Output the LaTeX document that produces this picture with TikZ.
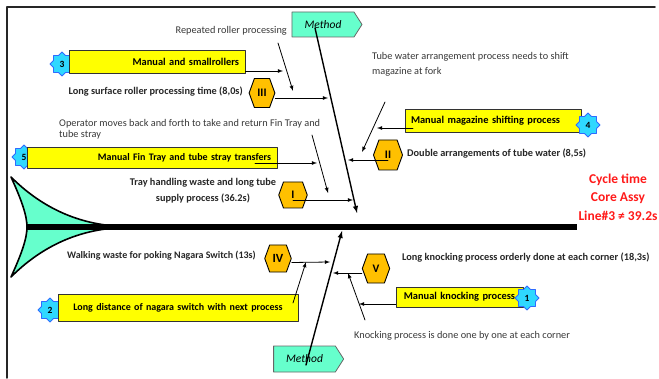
\documentclass[tikz,border=0pt]{standalone}
\usepackage{fontspec}
\setmainfont{Carlito}
\usetikzlibrary{shapes.geometric,shapes.symbols}
\definecolor{causeyellow}{HTML}{FFFF00}
\definecolor{levelgold}{HTML}{FFC000}
\definecolor{methodteal}{HTML}{66FFCC}
\definecolor{badgecyan}{HTML}{2FD8FF}
\definecolor{badgeblue}{HTML}{2F6BFF}
\definecolor{cyclered}{HTML}{FF1A1A}

\begin{document}
\begin{tikzpicture}[x=1pt, y=1pt, line cap=round, line join=round, >=latex,
    note/.style={font=\fontsize{10.3}{11.5}\selectfont, text=black!78, inner sep=0pt, align=left},
    timing/.style={font=\fontsize{10.3}{16}\selectfont\bfseries, text=black!85, inner sep=0pt, align=center},
    cause/.style={draw=black!80, fill=causeyellow, line width=0.8pt, inner xsep=6pt, inner ysep=0pt,
      font=\fontsize{10.4}{12}\selectfont\bfseries},
    badge/.style={star, star points=8, star point ratio=1.3, minimum size=24pt, inner sep=0pt,
      fill=badgecyan, draw=badgeblue, line width=0.8pt, font=\fontsize{9.5}{10}\selectfont\bfseries},
    level/.style={signal, signal to=east and west, signal pointer angle=140,
      minimum height=28pt, inner xsep=7pt, inner ysep=0pt, fill=levelgold, draw=black, line width=0.9pt,
      font=\fontsize{11.5}{12}\selectfont\bfseries},
    method/.style={signal, signal to=east, signal pointer angle=115, minimum width=70pt,
      minimum height=25pt, inner sep=0pt, fill=methodteal, draw=black!60, line width=0.8pt,
      font=\fontsize{11.5}{12}\selectfont\itshape},
    every edge/.append style={line width=0.8pt}]

  \useasboundingbox (0,0) rectangle (659,378);
  \draw[line width=1.5pt, black!85] (655,371) -- (7,371) -- (7,0);

  % fish tail and spine
  \draw[line width=1.6pt, fill=methodteal] (11,201) .. controls (40,172) and (75,155) .. (115,152)
    -- (115,150) .. controls (75,147) and (40,130) .. (11,101)
    .. controls (22,125) and (27,140) .. (27,151)
    .. controls (27,162) and (22,177) .. (11,201) -- cycle;
  \draw[line width=6.5pt, line cap=butt] (27,151) -- (577,151);

  \node[method] (mt) at (323,353.5) {Method};
  \node[method, minimum height=26pt] (mb) at (304.5,19) {Method};

  % badges behind the boxes
  \node[badge] (n3) at (62,314) {3};
  \node[badge] (n5) at (24,221) {5};
  \node[badge] (n2) at (50,68) {2};

  % yellow boxes
  \node[cause, text width=164pt, align=right, minimum height=23pt] (b3) at (157,316.5) {Manual and smallrollers};
  \node[cause, text width=238pt, align=right, minimum height=21pt, font=\fontsize{10}{12}\selectfont\bfseries] (b5) at (152,220.5) {Manual Fin Tray and tube stray transfers};
  \node[cause, text width=164pt, align=left, minimum height=23pt] (b4) at (493,257.5) {Manual magazine shifting process};
  \node[cause, text width=228pt, align=center, minimum height=27pt, font=\fontsize{10}{12}\selectfont\bfseries] (b2) at (178,70.5) {Long distance of nagara switch with next process};
  \node[cause, text width=115pt, align=center, minimum height=20pt] (b1) at (459.5,81) {Manual knocking process};

  \node[badge] (n4) at (588,253) {4};
  \node[badge] (n1) at (527,80) {1};

  % texts
  \node[note, anchor=east] (t1) at (287,347) {Repeated roller processing};
  \node[timing, anchor=east] (t3) at (243,286) {Long surface roller processing time (8,0s)};
  \node[note, anchor=north west] (t5) at (59,259) {Operator moves back and forth to take and return Fin Tray and\\tube stray};
  \node[timing] (t6) at (203,187) {Tray handling waste and long tube\\supply process (36.2s)};
  \node[note, anchor=north west, font=\fontsize{10.3}{15}\selectfont] (t7) at (372,326) {Tube water arrangement process needs to shift\\magazine at fork};
  \node[timing, anchor=west] (t8) at (407,224) {Double arrangements of tube water (8,5s)};
  \node[timing, anchor=east, font=\fontsize{10}{12}\selectfont\bfseries] (t9) at (256,122) {Walking waste for poking Nagara Switch (13s)};
  \node[timing, anchor=west] (t10) at (402,120) {Long knocking process orderly done at each corner (18,3s)};
  \node[note, anchor=west] (t11) at (354,42) {Knocking process is done one by one at each corner};
  \node[font=\fontsize{13.5}{18.5}\selectfont\bfseries, text=cyclered, align=center, inner sep=0pt] (ct) at (618,181)
    {Cycle time\\Core Assy\\Line\#3 ≠ 39.2s};

  % hexagons
  \node[level, minimum height=29pt, inner xsep=3pt] (h3) at (262,285) {III};
  \node[level, minimum height=26pt, inner xsep=8pt] (h1) at (293,183) {I};
  \node[level, minimum height=30pt, inner xsep=6pt] (h2) at (388,223) {II};
  \node[level, minimum height=27pt, inner xsep=3pt, font=\fontsize{12.5}{12}\selectfont\bfseries] (h4) at (278,119.5) {IV};
  \node[level, minimum height=29pt, inner xsep=5pt] (h5) at (376,109.5) {V};

  % bones
  \coordinate (mtx) at (315,350);
  \coordinate (sp1) at (357,165);
  \coordinate (mbx) at (306,13);
  \coordinate (sp2) at (342,147);
  \path (mtx) edge[->, line width=1.4pt] (sp1)
        (mbx) edge[->, line width=1.4pt] (sp2);

  \coordinate (e3) at (283,307);
  \coordinate (e33) at (328,280);
  \coordinate (a1s) at (278,335);
  \coordinate (a1e) at (293,287);
  \path (b3.east |- e3) edge[->] (e3)
        ([yshift=-5pt]h3.east) edge[->] (e33)
        (a1s) edge[->] (a1e);

  \coordinate (f5) at (255,215);
  \coordinate (e5) at (317,215);
  \coordinate (a5s) at (312,243);
  \coordinate (a5e) at (328,185);
  \coordinate (e1) at (353,178);
  \path (f5) edge[->] (e5)
        (a5s) edge[->] (a5e)
        ([yshift=-5pt]h1.center) edge[->] (e1);

  \coordinate (f4) at (413,250);
  \coordinate (e4) at (377,250);
  \coordinate (a7s) at (385,276);
  \coordinate (a7e) at (362,226);
  \coordinate (e2) at (348,218);
  \path (f4) edge[->] (e4)
        (a7s) edge[->] (a7e)
        ([yshift=-5pt]h2.center) edge[->] (e2);

  \coordinate (e44) at (330,116);
  \coordinate (a2s) at (293,75);
  \coordinate (a2e) at (306,116);
  \path ([yshift=-4pt]h4.east) edge[->] (e44)
        (a2s) edge[->] (a2e);

  \coordinate (e55) at (333,105);
  \coordinate (e11) at (359,74);
  \coordinate (k1s) at (365,58);
  \coordinate (k1e) at (348,105);
  \path ([yshift=-4.5pt]h5.west) edge[->] (e55)
        (b1.west |- e11) edge[->] (e11)
        (k1s) edge[->] (k1e);
\end{tikzpicture}
\end{document}
